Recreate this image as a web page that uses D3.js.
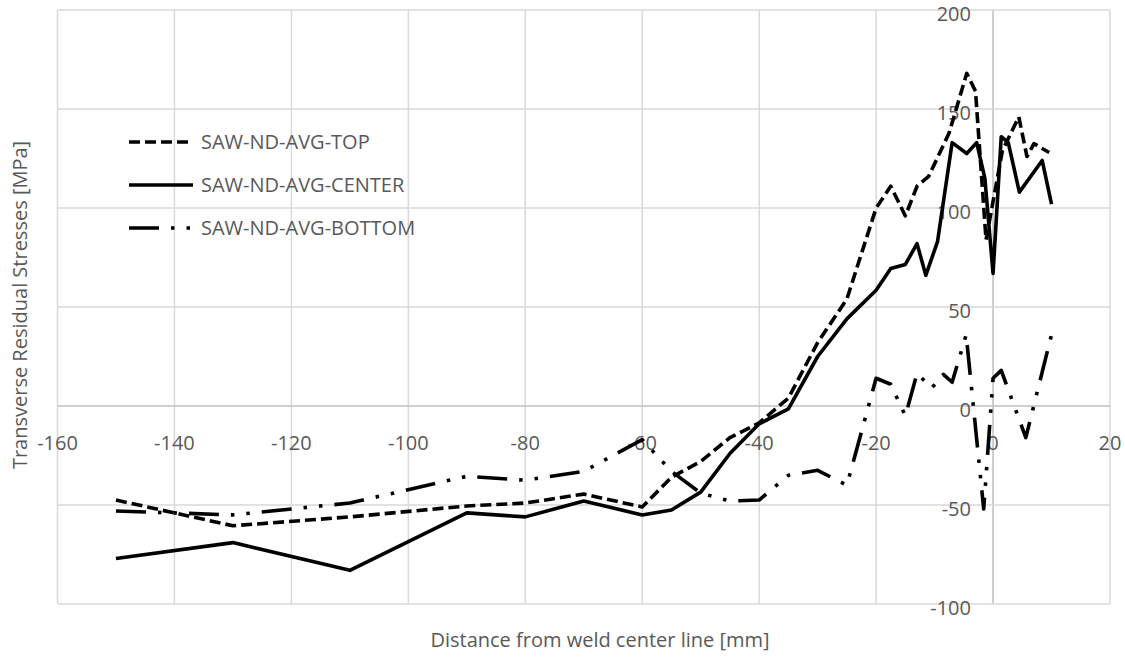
<!DOCTYPE html>
<html>
<head>
<meta charset="utf-8">
<script src="https://cdn.jsdelivr.net/npm/d3@7"></script>
<style>
  body { margin: 0; background: #fff; }
  text { font-family: "Open Sans", sans-serif; fill: #595959; }
</style>
</head>
<body>
<svg id="chart" width="1125" height="664"></svg>
<script>
// values
var topX = [-150, -130, -110, -90, -80, -70, -60, -55, -50, -45, -40, -35, -30, -25, -20, -17.5, -15, -13, -11, -7.5, -4.5, -3, -1.2, 1.6, 4.4, 5.8, 7, 9.6];
var topY = [-47.5, -60.5, -56, -50.5, -49, -44.5, -51, -36, -28, -16, -8.5, 4, 32, 54, 100, 111, 96, 111, 116, 138, 168, 159, 84, 129, 146, 126, 132.5, 128];

var centerX = [-150, -130, -110, -90, -80, -70, -60, -55, -50, -45, -40, -35, -30, -25, -20, -17.5, -15, -13, -11.5, -9.5, -7, -4.5, -2.8, -1.4, 0, 1.4, 2.6, 4.5, 8.4, 10];
var centerY = [-77, -69, -83, -54, -56, -48, -55, -52.5, -43.5, -24, -9, -1.5, 25, 44, 58.5, 69.5, 71.5, 82, 66, 83, 133, 127.5, 133, 115, 67, 136, 133, 108, 124, 102];

var bottomX = [-150, -130, -110, -90, -80, -70, -60, -55, -50, -45, -40, -35, -30, -25, -20, -17.5, -15, -13, -10.5, -8.5, -7, -4.6, -1.6, 0, 1.4, 5.6, 10];
var bottomY = [-53, -55, -49, -35.5, -37.5, -33, -17, -33, -44, -48, -47.5, -35, -32.5, -40, 14, 11, -5, 16.5, 9, 16, 12, 36, -52, 14, 18, -16, 36];

var seriesNames = ["SAW-ND-AVG-TOP", "SAW-ND-AVG-CENTER", "SAW-ND-AVG-BOTTOM"];
var xTicks = [-160, -140, -120, -100, -80, -60, -40, -20, 0, 20];
var yTicks = [-100, -50, 0, 50, 100, 150, 200];

var svg = d3.select("#chart");
var x = d3.scaleLinear().domain([-160, 20]).range([57.5, 1110]);
var y = d3.scaleLinear().domain([-100, 200]).range([604, 10]);

// gridlines
svg.append("g").selectAll("line").data(xTicks).enter().append("line")
  .attr("x1", function(d) { return x(d); }).attr("x2", function(d) { return x(d); })
  .attr("y1", y(200)).attr("y2", y(-100))
  .attr("stroke", function(d) { return d === 0 ? "#bfbfbf" : "#d9d9d9"; })
  .attr("stroke-width", 1.5);
svg.append("g").selectAll("line").data(yTicks).enter().append("line")
  .attr("x1", x(-160)).attr("x2", x(20))
  .attr("y1", function(d) { return y(d); }).attr("y2", function(d) { return y(d); })
  .attr("stroke", function(d) { return d === 0 ? "#bfbfbf" : "#d9d9d9"; })
  .attr("stroke-width", 1.5);

// tick labels
svg.append("g").selectAll("text").data(xTicks).enter().append("text")
  .attr("x", function(d) { return x(d); }).attr("y", 450)
  .attr("text-anchor", "middle").attr("font-size", 20)
  .text(function(d) { return d; });
svg.append("g").selectAll("text").data(yTicks).enter().append("text")
  .attr("x", 971).attr("y", function(d) { return y(d) + 11; })
  .attr("text-anchor", "end").attr("font-size", 20)
  .text(function(d) { return d; });

// series
var styles = [
  { xs: topX, ys: topY, dash: "11,5" },
  { xs: centerX, ys: centerY, dash: null },
  { xs: bottomX, ys: bottomY, dash: "30,12,3.5,12,3.5,12" }
];
var line = d3.line().x(function(d) { return x(d[0]); }).y(function(d) { return y(d[1]); });

styles.forEach(function(s) {
  var pts = s.xs.map(function(v, i) { return [v, s.ys[i]]; });
  svg.append("path").datum(pts)
    .attr("d", line)
    .attr("fill", "none")
    .attr("stroke", "#000")
    .attr("stroke-width", 3.6)
    .attr("stroke-linejoin", "round")
    .attr("stroke-dasharray", s.dash);
});

// legend
var legendY = [142, 185, 228];
var lg = svg.append("g");
styles.forEach(function(s, i) {
  lg.append("line")
    .attr("x1", 129).attr("x2", i === 0 ? 188 : 193)
    .attr("y1", legendY[i]).attr("y2", legendY[i])
    .attr("stroke", "#000").attr("stroke-width", 3.6)
    .attr("stroke-dasharray", s.dash);
  lg.append("text")
    .attr("x", 201).attr("y", legendY[i] + 7)
    .attr("font-size", 20)
    .text(seriesNames[i]);
});

// axis titles
svg.append("text")
  .attr("x", 600).attr("y", 647)
  .attr("text-anchor", "middle").attr("font-size", 20)
  .text("Distance from weld center line [mm]");
svg.append("text")
  .attr("transform", "translate(27,305) rotate(-90)")
  .attr("text-anchor", "middle").attr("font-size", 20)
  .text("Transverse Residual Stresses [MPa]");
</script>
</body>
</html>
